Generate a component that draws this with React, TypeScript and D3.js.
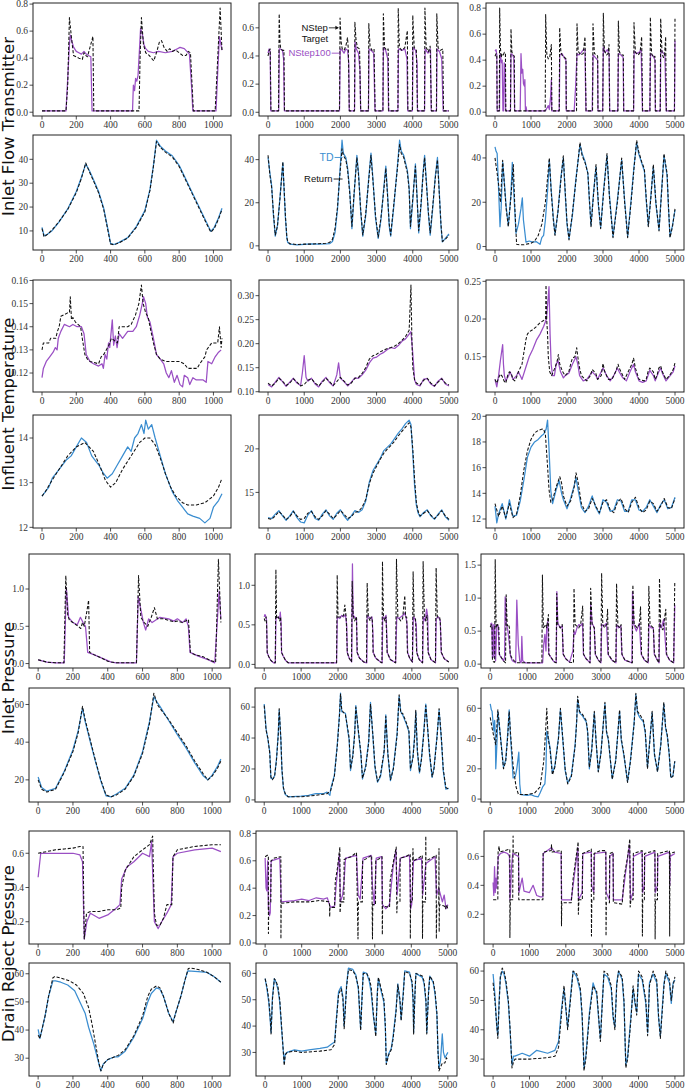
import React from "react";
import * as d3 from "d3";

type Pt = [number, number];

// ---------------- DATA ----------------
// Row 1: Inlet Flow Transmitter (NStep)
const r1c1Tgt: Pt[] = [[0,0.01],[140,0.01],[150,0.2],[160,0.70],[172,0.55],[184,0.42],[200,0.41],[215,0.40],[235,0.39],[245,0.44],[255,0.42],[265,0.41],[280,0.48],[297,0.56],[302,0.01],[566,0.01],[572,0.4],[580,0.70],[592,0.5],[605,0.44],[625,0.42],[652,0.38],[670,0.45],[685,0.52],[697,0.53],[712,0.48],[730,0.45],[745,0.47],[760,0.45],[780,0.46],[800,0.44],[820,0.42],[840,0.42],[853,0.45],[866,0.44],[883,0.01],[1010,0.01],[1025,0.4],[1039,0.77],[1050,0.45]];
const r1c1Pred: Pt[] = [[0,0.01],[140,0.01],[150,0.25],[160,0.5],[165,0.57],[175,0.52],[185,0.48],[200,0.45],[215,0.44],[230,0.43],[245,0.45],[258,0.43],[270,0.42],[285,0.41],[292,0.01],[528,0.01],[533,0.20],[540,0.16],[546,0.25],[553,0.23],[560,0.27],[568,0.45],[575,0.62],[585,0.58],[595,0.5],[605,0.47],[620,0.45],[650,0.44],[680,0.45],[720,0.44],[760,0.45],[790,0.47],[805,0.48],[830,0.47],[845,0.45],[860,0.43],[872,0.2],[880,0.01],[1015,0.01],[1025,0.3],[1035,0.56],[1050,0.46]];
const r1c2Tgt: Pt[] = [[0,0.40],[30,0.44],[60,0.45],[80,0.01],[290,0.01],[308,0.70],[330,0.5],[350,0.45],[400,0.44],[440,0.44],[455,0.01],[1975,0.01],[1990,0.67],[2020,0.50],[2050,0.45],[2100,0.44],[2150,0.47],[2196,0.53],[2220,0.44],[2245,0.01],[2390,0.01],[2400,0.64],[2430,0.52],[2470,0.46],[2530,0.45],[2560,0.01],[2775,0.01],[2785,0.63],[2820,0.47],[2870,0.44],[2930,0.45],[2960,0.01],[3175,0.01],[3187,0.70],[3220,0.46],[3280,0.44],[3320,0.45],[3335,0.01],[3590,0.01],[3598,0.74],[3630,0.46],[3700,0.44],[3780,0.46],[3850,0.58],[3865,0.01],[3990,0.01],[4000,0.69],[4040,0.46],[4100,0.44],[4130,0.01],[4325,0.01],[4336,0.74],[4370,0.46],[4430,0.43],[4480,0.47],[4515,0.01],[4655,0.01],[4664,0.70],[4700,0.46],[4760,0.44],[4830,0.45],[4850,0.01],[5000,0.01]];
const r1c2Pred: Pt[] = [[0,0.42],[30,0.45],[60,0.43],[75,0.01],[295,0.01],[310,0.45],[340,0.45],[400,0.44],[430,0.38],[450,0.01],[1975,0.01],[1995,0.45],[2050,0.44],[2100,0.42],[2150,0.45],[2200,0.44],[2230,0.35],[2245,0.01],[2390,0.01],[2405,0.5],[2440,0.45],[2500,0.42],[2540,0.3],[2560,0.01],[2775,0.01],[2790,0.45],[2850,0.44],[2920,0.42],[2955,0.01],[3175,0.01],[3190,0.46],[3250,0.44],[3310,0.38],[3330,0.01],[3590,0.01],[3605,0.45],[3700,0.44],[3780,0.45],[3840,0.38],[3860,0.01],[3990,0.01],[4005,0.46],[4080,0.44],[4120,0.35],[4130,0.01],[4325,0.01],[4340,0.45],[4420,0.42],[4490,0.45],[4510,0.01],[4655,0.01],[4670,0.45],[4740,0.43],[4800,0.38],[4840,0.01],[5000,0.01]];
const r1c3Tgt: Pt[] = [[0,0.43],[30,0.45],[50,0.44],[60,0.01],[120,0.01],[130,0.80],[150,0.5],[170,0.42],[200,0.45],[230,0.44],[260,0.46],[290,0.45],[300,0.01],[430,0.01],[444,0.64],[470,0.46],[510,0.44],[537,0.43],[545,0.01],[1395,0.01],[1407,0.75],[1440,0.44],[1480,0.41],[1520,0.42],[1565,0.52],[1580,0.01],[1785,0.01],[1796,0.65],[1830,0.46],[1880,0.43],[1940,0.42],[1972,0.41],[1980,0.01],[2265,0.01],[2278,0.68],[2310,0.47],[2380,0.44],[2450,0.45],[2500,0.58],[2530,0.01],[2710,0.01],[2722,0.68],[2760,0.45],[2830,0.44],[2852,0.43],[2860,0.01],[2995,0.01],[3009,0.76],[3040,0.47],[3100,0.44],[3140,0.45],[3167,0.52],[3185,0.01],[3415,0.01],[3426,0.70],[3460,0.46],[3530,0.44],[3565,0.44],[3575,0.01],[3850,0.01],[3861,0.69],[3900,0.46],[3980,0.44],[4030,0.46],[4074,0.58],[4100,0.01],[4305,0.01],[4315,0.73],[4350,0.45],[4400,0.42],[4444,0.43],[4455,0.01],[4590,0.01],[4602,0.72],[4640,0.45],[4680,0.42],[4710,0.44],[4741,0.58],[4760,0.01],[4985,0.01],[5000,0.72]];
const r1c3Pred: Pt[] = [[0,0.47],[30,0.48],[50,0.44],[60,0.01],[125,0.01],[140,0.45],[160,0.42],[180,0.38],[200,0.40],[220,0.01],[240,0.01],[255,0.38],[280,0.35],[295,0.01],[430,0.01],[445,0.45],[490,0.44],[520,0.42],[530,0.28],[545,0.01],[700,0.01],[722,0.45],[745,0.30],[770,0.33],[790,0.22],[815,0.20],[830,0.25],[845,0.01],[865,0.04],[880,0.01],[1400,0.01],[1440,0.03],[1480,0.05],[1510,0.02],[1545,0.12],[1565,0.25],[1575,0.01],[1785,0.01],[1800,0.44],[1860,0.45],[1920,0.42],[1970,0.40],[1980,0.01],[2200,0.01],[2240,0.20],[2278,0.45],[2330,0.44],[2400,0.46],[2450,0.48],[2500,0.48],[2525,0.01],[2700,0.01],[2725,0.44],[2790,0.42],[2850,0.40],[2860,0.01],[2990,0.01],[3010,0.50],[3060,0.46],[3120,0.48],[3170,0.45],[3185,0.01],[3410,0.01],[3430,0.45],[3500,0.44],[3560,0.42],[3575,0.01],[3850,0.01],[3865,0.47],[3930,0.45],[4000,0.46],[4060,0.48],[4095,0.01],[4300,0.01],[4320,0.45],[4400,0.43],[4445,0.40],[4455,0.01],[4590,0.01],[4605,0.48],[4660,0.46],[4720,0.44],[4755,0.01],[4985,0.01],[5000,0.55]];

// Row 2: Inlet Flow Transmitter (TD)
const r2c1Tgt: Pt[] = [[0,11],[12,7.5],[30,8.5],[60,10.5],[100,14],[150,19],[200,26],[230,32],[255,38.5],[275,35],[300,31],[330,26],[360,19],[385,10],[400,4.5],[420,4.2],[450,5],[500,7],[550,11.5],[600,18],[630,27],[650,37],[668,47.5],[690,45],[720,43],[760,41],[800,37],[840,31],[880,25],[920,19],[960,13],[985,9.5],[1005,11],[1030,15],[1050,19]];
const r2c1Pred: Pt[] = [[0,11.5],[12,8],[30,8.5],[60,10.2],[100,13.8],[150,19.2],[200,26.5],[230,32.5],[255,38],[275,35.5],[300,31.5],[330,26.5],[360,19.5],[385,10.5],[400,4.8],[420,4.3],[450,5.2],[500,7.2],[550,11.8],[600,18.5],[630,27.5],[650,37.5],[668,48],[690,45.5],[720,43.5],[760,41.5],[800,37.5],[840,31.5],[880,25.5],[920,19.5],[960,13.5],[985,9.8],[1005,11.5],[1030,15.5],[1050,19.5]];
const r2c2Tgt: Pt[] = [[0,42],[50,33],[100,27],[150,15],[200,5],[260,9],[330,22],[409,39],[440,28],[480,14],[520,4],[545,2],[600,1],[800,0.6],[1000,0.8],[1200,0.8],[1400,1],[1600,1.2],[1700,1.6],[1780,3],[1850,8],[1920,18],[1980,32],[2045,45],[2080,42],[2150,40],[2200,35],[2260,24],[2318,9],[2380,25],[2455,41],[2500,33],[2560,17],[2618,5],[2700,15],[2780,30],[2845,42],[2900,30],[2970,14],[3045,4],[3120,13],[3200,26],[3255,36],[3300,24],[3350,10],[3390,5],[3480,20],[3570,35],[3636,47],[3680,43],[3750,41],[3850,34],[3900,26],[3936,9],[4000,22],[4073,37],[4110,25],[4164,7],[4230,20],[4280,32],[4327,41],[4380,28],[4430,16],[4482,6],[4560,20],[4620,31],[4682,40],[4730,25],[4780,10],[4818,2],[4900,3],[5000,5]];
const r2c2Pred: Pt[] = [[0,41],[50,34],[100,28],[150,14],[200,4.5],[260,9.5],[330,22.5],[409,38.5],[440,27],[480,13],[520,3.5],[545,1.5],[600,0.8],[800,0.5],[1000,0.7],[1200,0.9],[1400,0.8],[1600,0.9],[1700,1.0],[1780,2],[1850,6],[1920,17],[1980,33],[2045,49],[2080,43],[2150,41],[2200,36],[2260,25],[2318,8],[2380,24],[2455,42],[2500,34],[2560,16],[2618,4.5],[2700,14],[2780,31],[2845,43],[2900,31],[2970,13],[3045,3.5],[3120,12],[3200,27],[3255,37],[3300,25],[3350,9],[3390,4.5],[3480,19],[3570,36],[3636,49],[3680,44],[3750,42],[3850,35],[3900,27],[3936,8],[4000,21],[4073,38],[4110,26],[4164,6],[4230,19],[4280,33],[4327,42],[4380,29],[4430,15],[4482,5],[4560,19],[4620,32],[4682,41],[4730,26],[4780,9],[4818,1.8],[4900,3.5],[5000,5.5]];
const r2c3Tgt: Pt[] = [[0,40],[60,33],[100,28],[150,20],[213,39],[260,28],[310,17],[370,9],[440,22],[509,37],[550,18],[600,1],[700,0.8],[800,0.8],[1000,1.5],[1100,2.5],[1200,5],[1300,10],[1400,20],[1460,31],[1509,40],[1560,25],[1620,12],[1667,5],[1750,16],[1830,30],[1898,41],[1950,25],[2000,11],[2056,3],[2150,15],[2250,30],[2361,47],[2420,41],[2500,38],[2580,33],[2620,22],[2667,9],[2730,22],[2806,37],[2870,20],[2935,8],[3020,25],[3111,42],[3180,22],[3278,4],[3400,20],[3519,40],[3600,20],[3685,4],[3780,20],[3860,35],[3935,48],[3990,43],[4080,38],[4150,35],[4200,22],[4259,9],[4330,22],[4398,37],[4470,20],[4556,7],[4630,25],[4694,42],[4780,33],[4820,18],[4861,4],[4930,9],[5000,17]];
const r2c3Pred: Pt[] = [[0,45],[30,43],[60,42],[90,30],[139,9],[170,17],[213,38],[260,29],[310,18],[370,9.5],[440,23],[481,38],[520,25],[583,6],[650,10],[720,17],[759,22],[790,12],[861,2],[950,2.5],[1050,2],[1150,2.2],[1250,1],[1300,4],[1350,5],[1400,12],[1460,25],[1509,39],[1560,26],[1620,13],[1667,5.5],[1750,16],[1830,31],[1898,40],[1950,24],[2000,10],[2056,3.5],[2150,14],[2250,31],[2361,46],[2420,42],[2500,38.5],[2580,33],[2620,21],[2667,9.5],[2730,23],[2806,36],[2870,19],[2935,8.5],[3020,26],[3111,41],[3180,23],[3278,4.5],[3400,21],[3519,39],[3600,21],[3685,4.5],[3780,21],[3860,36],[3935,47],[3990,42],[4080,37.5],[4150,34],[4200,21],[4259,9.5],[4330,23],[4398,36],[4470,19],[4556,7.5],[4630,26],[4694,41],[4780,32],[4820,17],[4861,4.5],[4930,9.5],[5000,16.5]];

// Row 3: Influent Temperature (NStep)
const r3c1Tgt: Pt[] = [[0,0.130],[8,0.133],[40,0.133],[50,0.135],[80,0.135],[90,0.138],[100,0.140],[110,0.1445],[150,0.146],[160,0.146],[165,0.153],[172,0.143],[180,0.144],[195,0.142],[210,0.141],[225,0.140],[235,0.135],[250,0.128],[265,0.126],[280,0.125],[330,0.124],[345,0.127],[360,0.128],[375,0.130],[390,0.132],[405,0.135],[440,0.133],[450,0.140],[500,0.140],[520,0.141],[545,0.145],[565,0.150],[580,0.158],[590,0.150],[605,0.146],[620,0.144],[630,0.140],[650,0.133],[668,0.128],[690,0.126],[720,0.125],[780,0.125],[800,0.125],[830,0.124],[850,0.122],[905,0.122],[920,0.124],[950,0.127],[960,0.130],[990,0.133],[1025,0.133],[1035,0.140],[1045,0.131],[1050,0.135]];
const r3c1Pred: Pt[] = [[0,0.118],[8,0.122],[25,0.125],[45,0.127],[65,0.129],[78,0.131],[88,0.130],[95,0.135],[110,0.138],[130,0.141],[160,0.140],[180,0.141],[205,0.140],[230,0.140],[245,0.137],[258,0.128],[280,0.125],[300,0.124],[330,0.123],[350,0.124],[358,0.122],[368,0.128],[378,0.126],[388,0.133],[395,0.131],[410,0.143],[418,0.132],[428,0.136],[438,0.131],[450,0.137],[470,0.135],[500,0.138],[530,0.138],[550,0.140],[570,0.145],[585,0.150],[592,0.153],[605,0.150],[615,0.144],[630,0.142],[650,0.135],[668,0.128],[690,0.126],[710,0.124],[725,0.120],[740,0.118],[755,0.121],[772,0.116],[788,0.119],[805,0.115],[820,0.114],[830,0.119],[850,0.118],[862,0.115],[880,0.118],[900,0.117],[940,0.117],[958,0.116],[968,0.125],[990,0.124],[1010,0.127],[1030,0.129],[1045,0.130]];
const r3c2Tgt: Pt[] = [[0,0.118],[100,0.112],[200,0.118],[300,0.128],[400,0.122],[500,0.113],[600,0.118],[700,0.127],[800,0.120],[900,0.112],[1000,0.115],[1100,0.124],[1200,0.127],[1300,0.118],[1400,0.112],[1500,0.120],[1600,0.128],[1700,0.121],[1800,0.113],[1900,0.121],[2000,0.130],[2100,0.122],[2200,0.114],[2300,0.118],[2400,0.128],[2500,0.130],[2600,0.138],[2700,0.150],[2800,0.168],[2900,0.175],[3000,0.178],[3100,0.183],[3200,0.187],[3300,0.190],[3400,0.192],[3500,0.195],[3600,0.200],[3700,0.207],[3800,0.215],[3900,0.228],[3950,0.322],[3975,0.210],[4000,0.150],[4050,0.125],[4100,0.118],[4200,0.114],[4300,0.124],[4400,0.128],[4500,0.118],[4600,0.112],[4700,0.120],[4800,0.127],[4900,0.118],[5000,0.114]];
const r3c2Pred: Pt[] = [[0,0.115],[100,0.110],[200,0.120],[300,0.130],[400,0.121],[500,0.111],[600,0.120],[700,0.128],[800,0.118],[900,0.113],[950,0.140],[1000,0.175],[1050,0.130],[1100,0.122],[1200,0.128],[1300,0.116],[1400,0.110],[1500,0.122],[1600,0.130],[1700,0.119],[1800,0.112],[1900,0.135],[1950,0.160],[2000,0.128],[2100,0.121],[2200,0.112],[2300,0.120],[2400,0.129],[2500,0.128],[2600,0.135],[2700,0.145],[2800,0.160],[2900,0.170],[3000,0.172],[3100,0.178],[3200,0.182],[3300,0.188],[3400,0.192],[3500,0.190],[3600,0.196],[3700,0.205],[3800,0.210],[3900,0.220],[3950,0.225],[4000,0.180],[4050,0.125],[4100,0.115],[4200,0.112],[4300,0.126],[4400,0.127],[4500,0.116],[4600,0.111],[4700,0.122],[4800,0.128],[4900,0.116],[5000,0.112]];
const r3c3Tgt: Pt[] = [[0,0.120],[50,0.115],[100,0.122],[150,0.127],[200,0.124],[250,0.118],[300,0.115],[350,0.125],[400,0.130],[450,0.128],[500,0.120],[550,0.118],[600,0.123],[650,0.130],[700,0.135],[750,0.140],[800,0.155],[861,0.173],[900,0.180],[950,0.183],[1050,0.186],[1150,0.190],[1250,0.195],[1350,0.198],[1405,0.200],[1417,0.245],[1435,0.200],[1460,0.180],[1480,0.150],[1520,0.130],[1570,0.125],[1620,0.130],[1700,0.140],[1730,0.145],[1760,0.153],[1800,0.140],[1880,0.130],[1950,0.125],[2050,0.130],[2100,0.140],[2150,0.148],[2220,0.150],[2270,0.162],[2300,0.150],[2350,0.135],[2400,0.125],[2500,0.120],[2550,0.118],[2650,0.125],[2700,0.133],[2800,0.128],[2850,0.120],[2950,0.125],[3000,0.141],[3050,0.130],[3150,0.120],[3250,0.120],[3350,0.130],[3420,0.140],[3450,0.135],[3550,0.125],[3600,0.120],[3700,0.130],[3800,0.140],[3850,0.148],[3900,0.135],[4000,0.120],[4150,0.118],[4200,0.120],[4250,0.130],[4300,0.135],[4400,0.130],[4450,0.120],[4500,0.125],[4550,0.135],[4600,0.138],[4650,0.130],[4750,0.120],[4850,0.125],[4950,0.133],[5000,0.142]];
const r3c3Pred: Pt[] = [[0,0.120],[50,0.110],[100,0.125],[150,0.145],[213,0.166],[235,0.140],[260,0.125],[300,0.118],[380,0.125],[420,0.130],[500,0.120],[600,0.125],[650,0.130],[700,0.125],[750,0.120],[850,0.135],[950,0.150],[1050,0.160],[1150,0.172],[1250,0.180],[1350,0.190],[1430,0.200],[1480,0.230],[1500,0.243],[1530,0.180],[1560,0.140],[1600,0.125],[1650,0.125],[1700,0.140],[1750,0.145],[1820,0.130],[1900,0.122],[1950,0.125],[2050,0.128],[2150,0.140],[2250,0.150],[2300,0.140],[2350,0.125],[2450,0.118],[2550,0.120],[2700,0.130],[2800,0.125],[2850,0.120],[2950,0.130],[3000,0.135],[3100,0.125],[3200,0.118],[3300,0.125],[3400,0.135],[3450,0.130],[3550,0.122],[3650,0.118],[3750,0.130],[3850,0.140],[3900,0.130],[4000,0.118],[4100,0.116],[4200,0.118],[4300,0.132],[4400,0.125],[4450,0.118],[4550,0.130],[4600,0.135],[4650,0.128],[4750,0.118],[4850,0.124],[4950,0.130],[5000,0.138]];

// Row 4: Influent Temperature (TD)
const r4c1Tgt: Pt[] = [[0,12.7],[20,12.8],[50,13.0],[100,13.3],[150,13.6],[200,13.8],[250,13.9],[300,13.7],[340,13.35],[370,13.05],[400,12.9],[430,13.0],[470,13.3],[520,13.6],[570,13.9],[600,14.0],[630,14.0],[660,13.85],[690,13.55],[720,13.2],[750,12.9],[780,12.7],[820,12.55],[850,12.5],[900,12.5],[950,12.55],[1000,12.7],[1030,12.9],[1050,13.1]];
const r4c1Pred: Pt[] = [[0,12.7],[10,12.75],[40,12.9],[60,13.1],[100,13.3],[140,13.5],[170,13.6],[200,13.8],[230,14.0],[260,13.9],[290,13.6],[330,13.4],[360,13.2],[380,13.1],[410,13.2],[440,13.4],[470,13.6],[500,13.8],[520,13.7],[540,14.0],[560,14.1],[580,14.3],[595,14.1],[605,14.4],[620,14.2],[640,14.3],[660,14.0],[690,13.6],[720,13.2],[760,12.8],[790,12.6],[820,12.45],[850,12.3],[880,12.25],[920,12.2],[950,12.1],[980,12.2],[1000,12.45],[1030,12.6],[1050,12.75]];
const r4c2Tgt: Pt[] = [[0,12.0],[100,11.9],[200,12.3],[300,12.8],[400,12.4],[500,11.9],[600,12.2],[700,12.8],[800,12.3],[900,11.9],[1000,12.0],[1100,12.6],[1200,12.8],[1300,12.2],[1400,11.9],[1500,12.3],[1600,12.9],[1700,12.5],[1800,12.0],[1900,12.4],[2000,12.9],[2100,12.5],[2200,12.0],[2300,12.2],[2400,12.7],[2500,12.8],[2600,13.3],[2700,14.2],[2800,16.0],[2900,17.2],[3000,18.0],[3100,18.8],[3200,19.5],[3300,20.0],[3400,20.4],[3500,20.9],[3600,21.5],[3700,22.0],[3800,22.5],[3900,23.0],[3950,22.5],[4000,20.0],[4050,16.5],[4100,13.8],[4150,12.8],[4200,12.3],[4300,12.6],[4400,12.9],[4500,12.4],[4600,12.0],[4700,12.4],[4800,12.9],[4900,12.3],[5000,11.9]];
const r4c2Pred: Pt[] = [[0,12.1],[100,12.0],[200,12.5],[300,12.9],[400,12.3],[500,11.8],[600,12.3],[700,12.9],[800,12.1],[900,11.6],[1000,11.5],[1100,12.4],[1200,12.9],[1300,12.0],[1400,11.8],[1500,12.5],[1600,13.0],[1700,12.3],[1800,11.9],[1900,12.6],[2000,13.0],[2100,12.3],[2200,11.8],[2300,12.3],[2400,12.9],[2500,12.7],[2600,13.0],[2700,14.0],[2800,16.2],[2900,17.5],[3000,18.2],[3100,18.9],[3200,19.8],[3300,20.2],[3400,20.6],[3500,21.2],[3600,21.8],[3700,22.3],[3800,22.9],[3900,23.3],[3950,22.8],[4000,19.5],[4050,15.8],[4100,13.5],[4150,12.6],[4200,12.2],[4300,12.7],[4400,13.0],[4500,12.3],[4600,11.9],[4700,12.5],[4800,13.0],[4900,12.2],[5000,11.8]];
const r4c3Tgt: Pt[] = [[0,13.2],[100,12.2],[200,13.0],[300,12.1],[400,13.2],[500,12.1],[600,12.4],[700,13.8],[800,15.8],[900,17.3],[1000,18.2],[1100,18.7],[1200,18.9],[1300,19.0],[1350,19.0],[1400,18.6],[1450,16.5],[1500,14.3],[1550,13.3],[1600,13.5],[1700,14.5],[1800,15.3],[1850,14.8],[1900,13.8],[2000,13.0],[2100,13.4],[2200,14.5],[2250,15.6],[2300,15.0],[2400,13.2],[2500,12.6],[2600,12.8],[2700,13.6],[2800,13.0],[2900,12.5],[3000,13.3],[3100,13.5],[3200,12.7],[3300,12.5],[3400,13.3],[3500,13.6],[3600,12.8],[3700,12.5],[3800,13.3],[3900,13.7],[4000,12.9],[4100,12.5],[4200,12.7],[4300,13.4],[4400,13.2],[4500,12.6],[4600,13.0],[4700,13.6],[4800,12.9],[4900,12.8],[5000,13.6]];
const r4c3Pred: Pt[] = [[0,13.0],[50,11.7],[100,12.4],[200,13.2],[300,12.0],[400,13.5],[500,12.2],[600,12.3],[700,13.4],[800,15.0],[900,16.8],[1000,17.6],[1100,18.0],[1200,18.2],[1300,18.5],[1350,18.6],[1420,19.0],[1460,19.7],[1500,17.5],[1550,14.2],[1600,13.2],[1700,14.3],[1780,15.0],[1850,14.0],[1900,13.5],[2000,12.8],[2100,13.6],[2200,14.6],[2250,15.2],[2300,14.4],[2400,12.9],[2500,12.5],[2600,13.0],[2700,13.8],[2800,12.9],[2900,12.4],[3000,13.5],[3100,13.3],[3200,12.6],[3300,12.7],[3400,13.5],[3500,13.4],[3600,12.6],[3700,12.6],[3800,13.5],[3900,13.5],[4000,12.7],[4100,12.6],[4200,12.9],[4300,13.5],[4400,13.0],[4500,12.5],[4600,13.1],[4700,13.5],[4800,12.8],[4900,12.9],[5000,13.7]];

// Row 5: Inlet Pressure (NStep)
const r5c1Tgt: Pt[] = [[0,0.05],[50,0.02],[100,0.01],[148,0.01],[159,1.18],[170,0.65],[180,0.58],[200,0.55],[230,0.5],[245,0.47],[255,0.55],[265,0.5],[280,0.7],[290,0.85],[296,0.15],[320,0.12],[360,0.08],[400,0.03],[450,0.01],[565,0.01],[577,1.18],[590,0.62],[610,0.55],[630,0.5],[650,0.62],[668,0.75],[685,0.6],[720,0.6],[750,0.58],[780,0.56],[800,0.57],[830,0.55],[864,0.59],[875,0.15],[900,0.12],[950,0.09],[990,0.04],[1020,0.02],[1036,1.4],[1050,0.55]];
const r5c1Pred: Pt[] = [[0,0.05],[50,0.02],[100,0.01],[150,0.01],[162,1.02],[175,0.62],[200,0.55],[225,0.52],[243,0.62],[258,0.55],[272,0.5],[285,0.15],[320,0.12],[370,0.07],[420,0.02],[450,0.01],[565,0.01],[575,0.9],[588,0.75],[605,0.55],[618,0.45],[635,0.6],[655,0.55],[700,0.62],[750,0.6],[780,0.57],[800,0.6],[830,0.55],[850,0.6],[863,0.5],[873,0.15],[920,0.1],[980,0.05],[1015,0.01],[1040,0.97],[1050,0.6]];
const r5c2Tgt: Pt[] = [[0,0.58],[20,0.55],[50,0.6],[65,0.5],[81,0.15],[120,0.1],[180,0.05],[250,0.02],[300,0.02],[316,1.2],[335,0.58],[380,0.6],[420,0.55],[445,0.6],[470,0.15],[520,0.1],[580,0.05],[650,0.02],[1960,0.02],[1977,1.13],[2000,0.6],[2100,0.6],[2150,0.62],[2184,0.75],[2220,0.6],[2250,0.15],[2300,0.08],[2365,0.03],[2383,1.05],[2410,0.62],[2450,0.55],[2500,0.6],[2520,0.15],[2580,0.08],[2700,0.03],[2770,0.02],[2789,1.03],[2820,0.6],[2870,0.55],[2900,0.6],[2930,0.55],[2950,0.15],[3020,0.08],[3150,0.03],[3190,0.02],[3204,1.3],[3230,0.6],[3270,0.55],[3300,0.6],[3330,0.15],[3420,0.06],[3560,0.02],[3583,1.33],[3620,0.6],[3700,0.55],[3750,0.58],[3808,0.87],[3830,0.6],[3860,0.6],[3880,0.15],[3940,0.08],[4015,0.03],[4034,1.17],[4060,0.6],[4100,0.57],[4130,0.15],[4200,0.06],[4290,0.02],[4305,1.3],[4340,0.6],[4380,0.55],[4410,0.62],[4440,0.15],[4520,0.06],[4640,0.02],[4657,1.22],[4690,0.6],[4750,0.6],[4770,0.55],[4800,0.15],[4880,0.07],[5000,0.03]];
const r5c2Pred: Pt[] = [[0,0.6],[20,0.63],[50,0.6],[65,0.55],[81,0.15],[120,0.1],[180,0.05],[250,0.02],[300,0.02],[318,0.58],[380,0.6],[420,0.58],[435,0.66],[460,0.5],[470,0.15],[520,0.1],[580,0.05],[650,0.02],[1960,0.02],[1980,0.6],[2050,0.58],[2100,0.62],[2150,0.6],[2200,0.63],[2235,0.5],[2250,0.15],[2300,0.08],[2370,0.03],[2390,1.27],[2410,0.62],[2450,0.6],[2500,0.58],[2515,0.15],[2580,0.08],[2700,0.03],[2780,0.02],[2790,0.62],[2830,0.6],[2880,0.58],[2920,0.6],[2945,0.4],[2955,0.15],[3020,0.08],[3150,0.03],[3195,0.02],[3210,0.6],[3260,0.58],[3300,0.62],[3320,0.4],[3335,0.15],[3420,0.06],[3560,0.02],[3590,0.6],[3650,0.58],[3700,0.6],[3760,0.62],[3800,0.65],[3840,0.6],[3870,0.5],[3885,0.15],[3940,0.08],[4015,0.03],[4040,0.6],[4080,0.58],[4120,0.5],[4135,0.15],[4200,0.06],[4290,0.02],[4310,0.6],[4360,0.55],[4400,0.7],[4430,0.6],[4445,0.15],[4520,0.06],[4640,0.02],[4660,0.58],[4720,0.6],[4770,0.55],[4795,0.15],[4880,0.07],[5000,0.03]];
const r5c3Tgt: Pt[] = [[0,0.56],[30,0.6],[50,0.55],[60,0.05],[100,0.03],[120,0.03],[135,1.59],[160,0.55],[200,0.6],[230,0.58],[250,0.15],[300,0.1],[360,0.05],[415,0.02],[432,1.05],[460,0.58],[500,0.6],[520,0.55],[540,0.15],[580,0.1],[650,0.05],[720,0.02],[1400,0.02],[1414,1.35],[1440,0.55],[1500,0.6],[1530,0.55],[1577,0.75],[1590,0.15],[1650,0.1],[1720,0.04],[1785,0.02],[1802,1.07],[1830,0.6],[1900,0.55],[1950,0.6],[1980,0.15],[2050,0.08],[2150,0.03],[2255,0.02],[2270,1.15],[2300,0.6],[2400,0.55],[2450,0.6],[2505,0.88],[2530,0.15],[2600,0.08],[2705,0.02],[2721,1.15],[2760,0.6],[2820,0.55],[2850,0.15],[2930,0.06],[3000,0.02],[3018,1.38],[3050,0.6],[3100,0.55],[3150,0.6],[3180,0.83],[3200,0.15],[3300,0.06],[3405,0.02],[3423,1.22],[3460,0.58],[3520,0.55],[3545,0.6],[3570,0.15],[3650,0.06],[3850,0.02],[3865,1.2],[3900,0.6],[3980,0.55],[4040,0.6],[4072,0.87],[4100,0.15],[4180,0.06],[4280,0.02],[4297,1.18],[4330,0.6],[4420,0.55],[4450,0.15],[4530,0.06],[4570,0.02],[4586,1.3],[4620,0.55],[4680,0.52],[4757,0.83],[4780,0.15],[4860,0.06],[4970,0.02],[5000,1.25]];
const r5c3Pred: Pt[] = [[0,0.6],[40,0.62],[60,0.1],[80,0.6],[100,0.1],[120,0.6],[145,0.05],[180,0.6],[220,0.58],[240,0.15],[300,0.1],[360,0.05],[390,0.1],[405,1.02],[440,0.6],[480,0.5],[510,0.35],[550,0.12],[600,0.05],[690,0.02],[720,0.97],[760,0.3],[800,0.05],[840,0.02],[856,0.42],[880,0.05],[950,0.02],[1420,0.02],[1450,0.3],[1480,0.45],[1510,0.2],[1530,0.55],[1560,0.65],[1585,0.15],[1650,0.1],[1720,0.04],[1790,0.02],[1805,1.1],[1830,0.62],[1900,0.55],[1950,0.58],[1975,0.15],[2050,0.08],[2150,0.03],[2240,0.2],[2270,0.5],[2300,0.45],[2350,0.55],[2400,0.6],[2450,0.58],[2500,0.62],[2525,0.15],[2600,0.08],[2705,0.02],[2722,0.9],[2760,0.62],[2820,0.55],[2845,0.15],[2930,0.06],[3000,0.02],[3020,0.6],[3080,0.58],[3150,0.62],[3190,0.15],[3300,0.06],[3405,0.02],[3425,0.6],[3480,0.55],[3540,0.58],[3565,0.15],[3650,0.06],[3840,0.02],[3855,1.1],[3890,0.6],[3960,0.5],[4040,0.62],[4090,0.15],[4180,0.06],[4280,0.02],[4300,0.6],[4360,0.55],[4420,0.55],[4445,0.15],[4530,0.06],[4575,0.02],[4590,0.62],[4640,0.55],[4700,0.68],[4770,0.15],[4860,0.06],[4970,0.02],[5000,0.9]];

// Row 6: Inlet Pressure (TD)
const r6c1Tgt: Pt[] = [[0,20],[20,15],[50,13.5],[100,15],[150,24],[200,35],[230,45],[255,59],[270,52],[300,41],[330,30],[360,20],[390,12],[420,11],[450,12],[500,15],[550,22],[600,34],[640,50],[665,66],[685,60],[700,58],[750,52],[800,45],[850,38],[900,30],[950,23],[975,20],[1000,22],[1030,26],[1050,30]];
const r6c1Pred: Pt[] = [[0,21.5],[20,16],[50,14],[100,15.5],[150,24.5],[200,36],[230,46],[255,58],[270,51],[300,40],[330,29.5],[360,19.5],[390,11.5],[420,11],[450,12.5],[500,15.5],[550,22.5],[600,35],[640,51],[665,64],[685,61],[700,59],[750,51.5],[800,44],[850,37],[900,29],[950,22],[975,20],[1000,22.5],[1030,27],[1050,31]];
const r6c2Tgt: Pt[] = [[0,61],[50,45],[100,40],[150,30],[180,15],[220,13],[280,15],[330,25],[380,42],[406,59],[450,40],[480,20],[520,8],[570,4],[650,2],[1000,2],[1400,3],[1700,4],[1800,6],[1900,15],[1980,35],[2040,55],[2067,68.5],[2100,58],[2200,55],[2250,48],[2300,40],[2338,20],[2400,28],[2450,42],[2482,60],[2550,45],[2620,30],[2662,14],[2750,21],[2830,37],[2879,62],[2950,40],[3000,22],[3069,12],[3150,16],[3250,32],[3294,54],[3350,30],[3420,13],[3500,20],[3600,42],[3655,68],[3700,56],[3750,56],[3850,50],[3920,45],[3962,20],[4030,27],[4080,42],[4106,58],[4150,32],[4206,18],[4260,26],[4320,42],[4377,61],[4430,46],[4480,30],[4549,15],[4600,20],[4680,40],[4738,59],[4800,40],[4850,20],[4920,8],[5000,7]];
const r6c2Pred: Pt[] = [[0,62],[50,46],[100,39],[150,31],[180,14],[220,13.5],[280,15.5],[330,26],[380,43],[406,58],[450,39],[480,19],[520,7.5],[570,3.5],[650,2],[1000,2.5],[1200,3],[1400,4],[1600,4],[1700,5],[1780,3],[1800,7],[1900,16],[1980,36],[2040,56],[2067,69],[2100,57],[2200,56],[2250,47],[2300,39],[2338,19],[2400,29],[2450,43],[2482,61],[2550,44],[2620,29],[2662,13.5],[2750,22],[2830,38],[2879,63],[2950,39],[3000,21],[3069,11.5],[3150,15],[3250,31],[3294,55],[3350,29],[3420,12.5],[3500,21],[3600,43],[3655,67],[3700,57],[3750,55],[3850,49],[3920,44],[3962,19],[4030,28],[4080,43],[4106,57],[4150,31],[4206,17.5],[4260,27],[4320,43],[4377,62],[4430,45],[4480,29],[4549,14.5],[4600,21],[4680,41],[4738,58],[4800,39],[4850,19],[4920,7],[5000,7.5]];
const r6c3Tgt: Pt[] = [[0,54],[50,47],[100,41],[150,36],[207,59],[280,40],[360,20],[420,25],[470,40],[514,58],[560,40],[620,22],[700,8],[766,3],[1000,3],[1200,4],[1350,8],[1450,25],[1500,45],[1532,60],[1570,40],[1620,33],[1685,16],[1750,21],[1850,40],[1901,60],[1960,42],[2030,20],[2099,10],[2200,15],[2300,35],[2340,50],[2369,68],[2420,58],[2500,56],[2600,52],[2640,45],[2685,21],[2750,32],[2820,58],[2870,38],[2928,18],[3000,30],[3108,64],[3150,45],[3200,40],[3306,13],[3400,25],[3505,59],[3550,40],[3620,30],[3721,11],[3800,25],[3900,50],[3946,70],[3990,58],[4050,56],[4150,52],[4200,45],[4261,20],[4330,40],[4387,58],[4450,30],[4532,18],[4620,35],[4703,64],[4750,48],[4800,42],[4850,30],[4892,14],[4950,15],[5000,25]];
const r6c3Pred: Pt[] = [[0,63],[30,59],[50,58],[80,50],[100,45],[120,52],[140,40],[150,20],[170,30],[190,42],[207,58],[280,41],[360,21],[420,26],[470,42],[514,59],[540,45],[580,30],[620,14],[680,15],[720,20],[775,31],[800,10],[830,3],[1000,2.5],[1100,3],[1200,2],[1300,1.5],[1350,4],[1420,8],[1480,10],[1510,20],[1532,45],[1570,41],[1620,34],[1685,17],[1750,22],[1850,41],[1901,59],[1960,41],[2030,19],[2099,10.5],[2200,16],[2300,36],[2340,51],[2369,66],[2420,57],[2500,55],[2600,51],[2640,44],[2685,20],[2750,33],[2820,57],[2870,37],[2928,18.5],[3000,31],[3108,63],[3150,44],[3200,39],[3306,13.5],[3400,26],[3505,58],[3550,39],[3620,29],[3721,11.5],[3800,26],[3900,51],[3946,69],[3990,57],[4050,54],[4150,51],[4200,44],[4261,21],[4330,41],[4387,57],[4450,29],[4532,18.5],[4620,36],[4703,63],[4750,47],[4800,41],[4850,29],[4892,14.5],[4950,15.5],[5000,25]];

// Row 7: Drain Reject Pressure (NStep)
const r7c1Tgt: Pt[] = [[0,0.60],[50,0.61],[100,0.62],[150,0.625],[200,0.63],[240,0.64],[258,0.64],[265,0.10],[278,0.25],[300,0.26],[350,0.26],[400,0.27],[450,0.27],[475,0.28],[480,0.40],[500,0.50],[550,0.58],[600,0.62],[640,0.65],[658,0.70],[668,0.25],[680,0.18],[700,0.18],[720,0.22],[740,0.30],[768,0.30],[775,0.58],[800,0.62],[900,0.64],[1000,0.65],[1050,0.65]];
const r7c1Pred: Pt[] = [[0,0.46],[15,0.60],[100,0.60],[200,0.60],[240,0.59],[255,0.55],[265,0.10],[280,0.20],[300,0.25],[350,0.22],[400,0.24],[450,0.28],[470,0.30],[480,0.45],[510,0.52],[550,0.55],[600,0.60],[640,0.58],[652,0.67],[668,0.20],[690,0.16],[710,0.20],[740,0.25],[765,0.30],[775,0.58],[800,0.60],[900,0.62],[1000,0.63],[1050,0.61]];
const r7c2Tgt: Pt[] = [[0,0.63],[60,0.64],[88,0.64],[90,0.07],[100,0.30],[155,0.30],[162,0.60],[250,0.62],[430,0.63],[432,0.03],[440,0.29],[800,0.30],[1200,0.30],[1500,0.31],[1760,0.30],[1766,0.19],[1775,0.26],[1900,0.26],[1919,0.45],[1980,0.55],[2045,0.70],[2050,0.22],[2072,0.30],[2155,0.30],[2162,0.61],[2350,0.63],[2500,0.66],[2541,0.03],[2550,0.30],[2660,0.30],[2667,0.60],[2800,0.62],[2915,0.64],[2937,0.03],[2945,0.28],[3020,0.28],[3027,0.60],[3150,0.62],[3200,0.63],[3207,0.06],[3215,0.27],[3405,0.26],[3420,0.45],[3500,0.58],[3586,0.70],[3604,0.22],[3615,0.30],[3690,0.30],[3694,0.62],[3850,0.63],[3970,0.65],[3973,0.03],[3980,0.30],[4030,0.30],[4036,0.60],[4045,0.69],[4055,0.60],[4200,0.62],[4300,0.64],[4306,0.03],[4315,0.30],[4390,0.30],[4396,0.78],[4400,0.60],[4550,0.62],[4680,0.64],[4685,0.03],[4695,0.28],[4750,0.28],[4757,0.69],[4762,0.08],[4770,0.28],[4900,0.27],[4937,0.25],[4960,0.28],[5000,0.25]];
const r7c2Pred: Pt[] = [[0,0.62],[25,0.40],[45,0.38],[70,0.60],[90,0.25],[120,0.20],[140,0.22],[165,0.60],[400,0.62],[430,0.40],[440,0.30],[800,0.31],[1000,0.32],[1200,0.31],[1400,0.33],[1600,0.32],[1700,0.33],[1760,0.28],[1800,0.26],[1900,0.27],[1950,0.44],[2030,0.65],[2060,0.30],[2120,0.35],[2160,0.45],[2200,0.62],[2500,0.64],[2545,0.35],[2600,0.32],[2680,0.62],[2900,0.64],[2940,0.40],[2990,0.28],[3040,0.62],[3190,0.63],[3210,0.28],[3300,0.25],[3400,0.28],[3500,0.55],[3580,0.68],[3610,0.35],[3700,0.62],[3950,0.64],[3980,0.25],[4010,0.28],[4060,0.60],[4280,0.62],[4310,0.35],[4400,0.58],[4650,0.63],[4690,0.35],[4750,0.40],[4850,0.30],[4900,0.35],[4950,0.25],[5000,0.28]];
const r7c3Tgt: Pt[] = [[0,0.30],[130,0.30],[138,0.63],[165,0.67],[180,0.63],[450,0.65],[459,0.65],[462,0.04],[475,0.30],[540,0.30],[550,0.74],[555,0.62],[700,0.63],[706,0.30],[1370,0.30],[1376,0.63],[1600,0.64],[1606,0.68],[1620,0.63],[1875,0.64],[1881,0.12],[1890,0.28],[2150,0.28],[2202,0.45],[2339,0.70],[2345,0.20],[2360,0.30],[2455,0.30],[2459,0.62],[2650,0.64],[2700,0.65],[2705,0.05],[2715,0.30],[2770,0.30],[2776,0.62],[2950,0.64],[3100,0.64],[3106,0.05],[3115,0.28],[3200,0.28],[3206,0.62],[3300,0.63],[3306,0.28],[3550,0.27],[3600,0.45],[3700,0.60],[3760,0.72],[3770,0.25],[3790,0.30],[3850,0.30],[3856,0.62],[4100,0.64],[4106,0.05],[4115,0.30],[4160,0.30],[4166,0.62],[4450,0.64],[4456,0.03],[4465,0.30],[4520,0.30],[4526,0.62],[4850,0.64],[4856,0.05],[4865,0.62],[5000,0.63]];
const r7c3Pred: Pt[] = [[0,0.42],[20,0.33],[40,0.53],[60,0.35],[80,0.45],[100,0.38],[120,0.50],[140,0.60],[200,0.62],[300,0.63],[400,0.62],[450,0.60],[462,0.30],[480,0.35],[500,0.50],[540,0.62],[700,0.60],[710,0.35],[800,0.45],[850,0.36],[1000,0.35],[1100,0.40],[1200,0.33],[1300,0.32],[1370,0.32],[1380,0.62],[1600,0.66],[1700,0.63],[1870,0.62],[1885,0.30],[2000,0.30],[2150,0.30],[2250,0.50],[2330,0.66],[2350,0.30],[2450,0.35],[2470,0.62],[2700,0.63],[2710,0.40],[2770,0.35],[2790,0.62],[3100,0.63],[3110,0.35],[3200,0.30],[3210,0.60],[3300,0.62],[3310,0.30],[3550,0.30],[3650,0.50],[3750,0.68],[3780,0.30],[3850,0.35],[3860,0.60],[4100,0.63],[4110,0.35],[4160,0.40],[4170,0.60],[4450,0.63],[4460,0.35],[4520,0.40],[4530,0.60],[4850,0.63],[4860,0.40],[4870,0.60],[5000,0.62]];

// Row 8: Drain Reject Pressure (TD)
const r8c1Tgt: Pt[] = [[0,38.2],[10,37],[40,45],[60,52],[85,58.6],[95,59],[130,58.5],[180,57.5],[220,56],[260,53],[290,48],[310,42],[330,35],[350,28],[361,25.5],[375,28],[400,29.5],[440,30.5],[460,31],[500,33],[550,38],[600,45],[630,52],[650,54.5],[680,55.7],[700,55],[720,52],[750,46],[776,42.5],[790,46],[820,52],[845,58],[863,61.9],[880,62],[920,61.5],[970,60.5],[1010,59],[1050,57]];
const r8c1Pred: Pt[] = [[0,40.2],[10,37],[40,45],[60,52],[85,57.5],[100,57.5],[130,57],[170,56],[210,54],[240,50],[270,46],[290,41],[320,35],[345,29],[360,25.5],[375,28],[400,29.5],[440,30.5],[460,30.5],[500,32.5],[550,37.5],[600,44],[630,50],[650,53],[680,55],[700,54.5],[720,52],[750,46],[775,43],[790,46],[820,52],[845,58],[860,61],[920,60.8],[970,60.5],[1010,59],[1050,57]];
const r8c2Tgt: Pt[] = [[0,58],[50,55],[100,50],[140,43],[162,37],[200,50],[252,58],[300,57],[350,55],[400,50],[450,40],[523,25],[550,29],[600,30],[800,30.5],[1000,30],[1500,30.5],[1800,31],[1900,33],[1950,42],[2009,52],[2080,54.2],[2130,50],[2162,39],[2230,55],[2279,61.4],[2400,61],[2480,59],[2550,55],[2590,45],[2613,38.4],[2650,50],[2685,60],[2780,60],[2850,58],[2900,55],[2960,45],[3027,36],[3070,52],[3099,58.5],[3160,55],[3250,50],[3290,40],[3315,25.4],[3380,29],[3450,31],[3500,35],[3580,45],[3631,55.8],[3690,50],[3721,42],[3780,52],[3820,60.7],[3950,60],[4020,57],[4050,50],[4063,37],[4100,52],[4126,60],[4300,59],[4350,57],[4400,50],[4423,37],[4470,52],[4505,59],[4600,57],[4650,53],[4700,45],[4730,30],[4757,23],[4850,26],[4920,26],[4960,28],[5000,27]];
const r8c2Pred: Pt[] = [[0,58],[50,54],[100,49],[140,42],[162,37.5],[200,51],[252,58],[300,56.5],[350,54],[400,49],[450,39],[523,26],[550,29.5],[600,30],[800,31],[1000,30.5],[1200,31],[1500,31.5],[1700,32],[1800,33],[1900,34],[1950,43],[2009,53],[2080,55],[2130,51],[2162,40],[2230,56],[2279,62],[2400,61.5],[2480,59.5],[2550,54],[2590,44],[2613,39],[2650,51],[2685,60.5],[2780,60],[2850,57],[2900,53],[2960,44],[3027,37],[3070,53],[3099,58],[3160,54],[3250,49],[3290,39],[3315,26],[3380,29.5],[3450,31.5],[3500,36],[3580,46],[3631,56],[3690,49],[3721,42.5],[3780,53],[3820,61],[3950,60.5],[4020,56],[4050,49],[4063,37.5],[4100,53],[4126,60],[4300,58.5],[4350,56],[4400,49],[4423,37.5],[4470,53],[4505,59],[4600,56.5],[4650,52],[4700,44],[4730,31],[4757,24],[4800,27],[4847,37],[4880,30],[4920,28],[5000,30]];
const r8c3Tgt: Pt[] = [[0,56],[50,50],[100,42],[130,37],[170,50],[200,58],[250,61],[300,60],[350,57],[420,50],[470,40],[520,27],[560,29],[600,30],[1000,30],[1500,30.5],[1700,31],[1800,34],[1880,45],[1950,55],[2000,48],[2050,40],[2150,53],[2200,60],[2300,59],[2400,54],[2450,45],[2500,26],[2550,30],[2650,45],[2750,55],[2850,53],[2900,45],[2950,36],[3000,48],[3050,60],[3150,59],[3250,55],[3300,45],[3350,40],[3400,55],[3450,60],[3550,58],[3600,50],[3650,27],[3700,30],[3800,45],[3850,55],[3900,50],[3950,45],[4000,60],[4100,58],[4200,50],[4250,38],[4300,55],[4400,60],[4500,57],[4550,45],[4600,37],[4700,55],[4750,60],[4850,57],[4900,50],[4950,55],[5000,58]];
const r8c3Pred: Pt[] = [[0,59],[50,52],[100,41],[130,38],[170,51],[200,58],[250,60],[300,59],[350,56],[420,49],[470,39],[520,28],[560,31],[600,31],[800,32],[1000,31],[1200,33],[1500,32],[1700,33],[1800,36],[1880,47],[1950,54],[2000,47],[2050,41],[2150,54],[2200,60],[2300,58],[2400,53],[2450,44],[2500,27],[2550,31],[2650,46],[2750,56],[2850,52],[2900,44],[2950,37],[3000,49],[3050,59],[3150,58],[3250,54],[3300,44],[3350,41],[3400,56],[3450,60],[3550,57],[3600,49],[3650,28],[3700,31],[3800,46],[3850,54],[3900,49],[3950,46],[4000,59],[4100,57],[4200,49],[4250,39],[4300,56],[4400,59],[4500,56],[4550,44],[4600,38],[4700,56],[4750,59],[4850,56],[4900,49],[4950,56],[5000,57]];

// Tick labels
const xTicksShort = ["0", "200", "400", "600", "800", "1000"];
const xTicksLong = ["0", "1000", "2000", "3000", "4000", "5000"];
const yTicks: string[][][] = [
  [["0.0","0.2","0.4","0.6","0.8"], ["0.0","0.2","0.4","0.6"], ["0.0","0.2","0.4","0.6","0.8"]],
  [["10","20","30","40"], ["0","20","40"], ["0","20","40"]],
  [["0.12","0.13","0.14","0.15","0.16"], ["0.10","0.15","0.20","0.25","0.30"], ["0.15","0.20","0.25"]],
  [["12","13","14"], ["15","20"], ["12","14","16","18","20"]],
  [["0.0","0.5","1.0"], ["0.0","0.5","1.0"], ["0.0","0.5","1.0","1.5"]],
  [["20","40","60"], ["0","20","40","60"], ["0","20","40","60"]],
  [["0.2","0.4","0.6"], ["0.0","0.2","0.4","0.6","0.8"], ["0.2","0.4","0.6"]],
  [["30","40","50","60"], ["30","40","50","60"], ["30","40","50","60"]],
];
const rowLabels = ["Inlet Flow Transmitter", "Influent Temperature", "Inlet Pressure", "Drain Reject Pressure"];

const targets: Pt[][][] = [
  [r1c1Tgt, r1c2Tgt, r1c3Tgt], [r2c1Tgt, r2c2Tgt, r2c3Tgt],
  [r3c1Tgt, r3c2Tgt, r3c3Tgt], [r4c1Tgt, r4c2Tgt, r4c3Tgt],
  [r5c1Tgt, r5c2Tgt, r5c3Tgt], [r6c1Tgt, r6c2Tgt, r6c3Tgt],
  [r7c1Tgt, r7c2Tgt, r7c3Tgt], [r8c1Tgt, r8c2Tgt, r8c3Tgt],
];
const preds: Pt[][][] = [
  [r1c1Pred, r1c2Pred, r1c3Pred], [r2c1Pred, r2c2Pred, r2c3Pred],
  [r3c1Pred, r3c2Pred, r3c3Pred], [r4c1Pred, r4c2Pred, r4c3Pred],
  [r5c1Pred, r5c2Pred, r5c3Pred], [r6c1Pred, r6c2Pred, r6c3Pred],
  [r7c1Pred, r7c2Pred, r7c3Pred], [r8c1Pred, r8c2Pred, r8c3Pred],
];

// ---------------- LAYOUT / STYLE ----------------
const W = 685, H = 1090;
const PURPLE = "#9a4fc4";
const BLUE = "#3a8dd0";
const SERIF = "'Liberation Serif', 'DejaVu Serif', serif";
const SANS = "'Liberation Sans', Arial, sans-serif";
const GROUPS = [
  { cols: [[33, 231], [259, 458], [486, 684]], rows: [[3, 116], [135, 250]] },
  { cols: [[33, 231], [259, 458], [486, 684]], rows: [[280, 392], [415, 528]] },
  { cols: [[29, 230], [255, 458], [481, 684]], rows: [[554, 668], [688, 802]] },
  { cols: [[29, 230], [256, 457], [484, 684]], rows: [[831, 944], [963, 1076]] },
];

function Panel({ r, c }: { r: number; c: number }) {
  const g = GROUPS[Math.floor(r / 2)];
  const [x0, x1] = g.cols[c];
  const [y0, y1] = g.rows[r % 2];
  const tgt = targets[r][c];
  const pred = preds[r][c];
  const all = tgt.concat(pred);
  const [xmin, xmax] = d3.extent(all, (d) => d[0]) as [number, number];
  const [ymin, ymax] = d3.extent(all, (d) => d[1]) as [number, number];
  const xp = (xmax - xmin) * 0.05;
  const yp = (ymax - ymin) * 0.05;
  const xs = d3.scaleLinear().domain([xmin - xp, xmax + xp]).range([x0, x1]);
  const ys = d3.scaleLinear().domain([ymin - yp, ymax + yp]).range([y1, y0]);
  const line = d3.line<Pt>().x((d) => xs(d[0])).y((d) => ys(d[1]));
  const color = r % 2 === 0 ? PURPLE : BLUE;
  const xt = c === 0 ? xTicksShort : xTicksLong;
  const yt = yTicks[r][c].filter((t) => {
    const v = +t;
    return v >= ys.domain()[0] && v <= ys.domain()[1];
  });
  return (
    <g>
      <path d={line(pred) || ""} fill="none" stroke={color} strokeWidth={1.25} strokeLinejoin="round" />
      <path d={line(tgt) || ""} fill="none" stroke="#111" strokeWidth={1.05} strokeDasharray="3.2,1.8" strokeLinejoin="round" />
      <rect x={x0} y={y0} width={x1 - x0} height={y1 - y0} fill="none" stroke="#222" strokeWidth={1} />
      {xt.map((t) => {
        const x = xs(+t);
        return (
          <g key={"x" + t}>
            <line x1={x} x2={x} y1={y1} y2={y1 + 3.5} stroke="#222" strokeWidth={0.8} />
            <text x={x} y={y1 + 11.5} textAnchor="middle" fontFamily={SERIF} fontSize={9.5} fill="#333">{t}</text>
          </g>
        );
      })}
      {yt.map((t) => {
        const y = ys(+t);
        return (
          <g key={"y" + t}>
            <line x1={x0 - 3.5} x2={x0} y1={y} y2={y} stroke="#222" strokeWidth={0.8} />
            <text x={x0 - 5} y={y + 3.3} textAnchor="end" fontFamily={SERIF} fontSize={9.5} fill="#333">{t}</text>
          </g>
        );
      })}
    </g>
  );
}

function Annotations() {
  const g1 = GROUPS[0];
  const [x0, x1] = g1.cols[1];
  const a = r1c2Tgt.concat(r1c2Pred);
  const [xa, xb] = d3.extent(a, (d) => d[0]) as [number, number];
  const [ya, yb] = d3.extent(a, (d) => d[1]) as [number, number];
  const xs1 = d3.scaleLinear().domain([xa - (xb - xa) * 0.05, xb + (xb - xa) * 0.05]).range([x0, x1]);
  const ys1 = d3.scaleLinear().domain([ya - (yb - ya) * 0.05, yb + (yb - ya) * 0.05]).range([g1.rows[0][1], g1.rows[0][0]]);
  const b = r2c2Tgt.concat(r2c2Pred);
  const [xc, xd] = d3.extent(b, (d) => d[0]) as [number, number];
  const [yc, yd] = d3.extent(b, (d) => d[1]) as [number, number];
  const xs2 = d3.scaleLinear().domain([xc - (xd - xc) * 0.05, xd + (xd - xc) * 0.05]).range([x0, x1]);
  const ys2 = d3.scaleLinear().domain([yc - (yd - yc) * 0.05, yd + (yd - yc) * 0.05]).range([g1.rows[1][1], g1.rows[1][0]]);

  const nTipX = xs1(1985), nTipY = ys1(0.6);
  const pTipX = xs1(1980), pTipY = ys1(0.42);
  const tdTipX = xs2(2060), tdTipY = ys2(41);
  const rtTipX = xs2(2060), rtTipY = ys2(31);
  return (
    <g fontFamily={SANS} fontSize={9.5}>
      <text x={nTipX - 12} y={nTipY + 3.3} textAnchor="end" fill="#111">NStep</text>
      <line x1={nTipX - 11} x2={nTipX - 2} y1={nTipY} y2={nTipY} stroke="#111" strokeWidth={0.8} />
      <path d={`M${nTipX - 1},${nTipY} l-3.5,-2 l0,4 z`} fill="#111" />
      <text x={nTipX - 25} y={nTipY + 14} textAnchor="middle" fill="#111">Target</text>
      <text x={pTipX - 9} y={pTipY + 3.3} textAnchor="end" fill={PURPLE}>NStep100</text>
      <line x1={pTipX - 8} x2={pTipX} y1={pTipY} y2={pTipY} stroke={PURPLE} strokeWidth={0.9} />
      <text x={tdTipX - 9} y={tdTipY + 4} textAnchor="end" fill={BLUE} fontSize={10.5}>TD</text>
      <line x1={tdTipX - 8} x2={tdTipX} y1={tdTipY} y2={tdTipY} stroke={BLUE} strokeWidth={0.9} />
      <text x={rtTipX - 10} y={rtTipY + 3.3} textAnchor="end" fill="#111">Return</text>
      <line x1={rtTipX - 9} x2={rtTipX} y1={rtTipY} y2={rtTipY} stroke="#111" strokeWidth={0.9} />
    </g>
  );
}

export default function App() {
  const cells: { r: number; c: number }[] = [];
  for (let r = 0; r < 8; r++) for (let c = 0; c < 3; c++) cells.push({ r, c });
  return (
    <svg width={W} height={H} style={{ position: "absolute", left: 0, top: 0, background: "#fff" }}>
      <rect x={0} y={0} width={W} height={H} fill="#fff" />
      {cells.map(({ r, c }) => <Panel key={r + "-" + c} r={r} c={c} />)}
      <Annotations />
      {rowLabels.map((lab, i) => {
        const g = GROUPS[i];
        const cy = (g.rows[0][0] + g.rows[1][1]) / 2;
        return (
          <text key={lab} transform={`translate(14,${cy}) rotate(-90)`} textAnchor="middle"
            fontFamily="'DejaVu Sans', sans-serif" fontSize={16.5} fill="#111">{lab}</text>
        );
      })}
    </svg>
  );
}
